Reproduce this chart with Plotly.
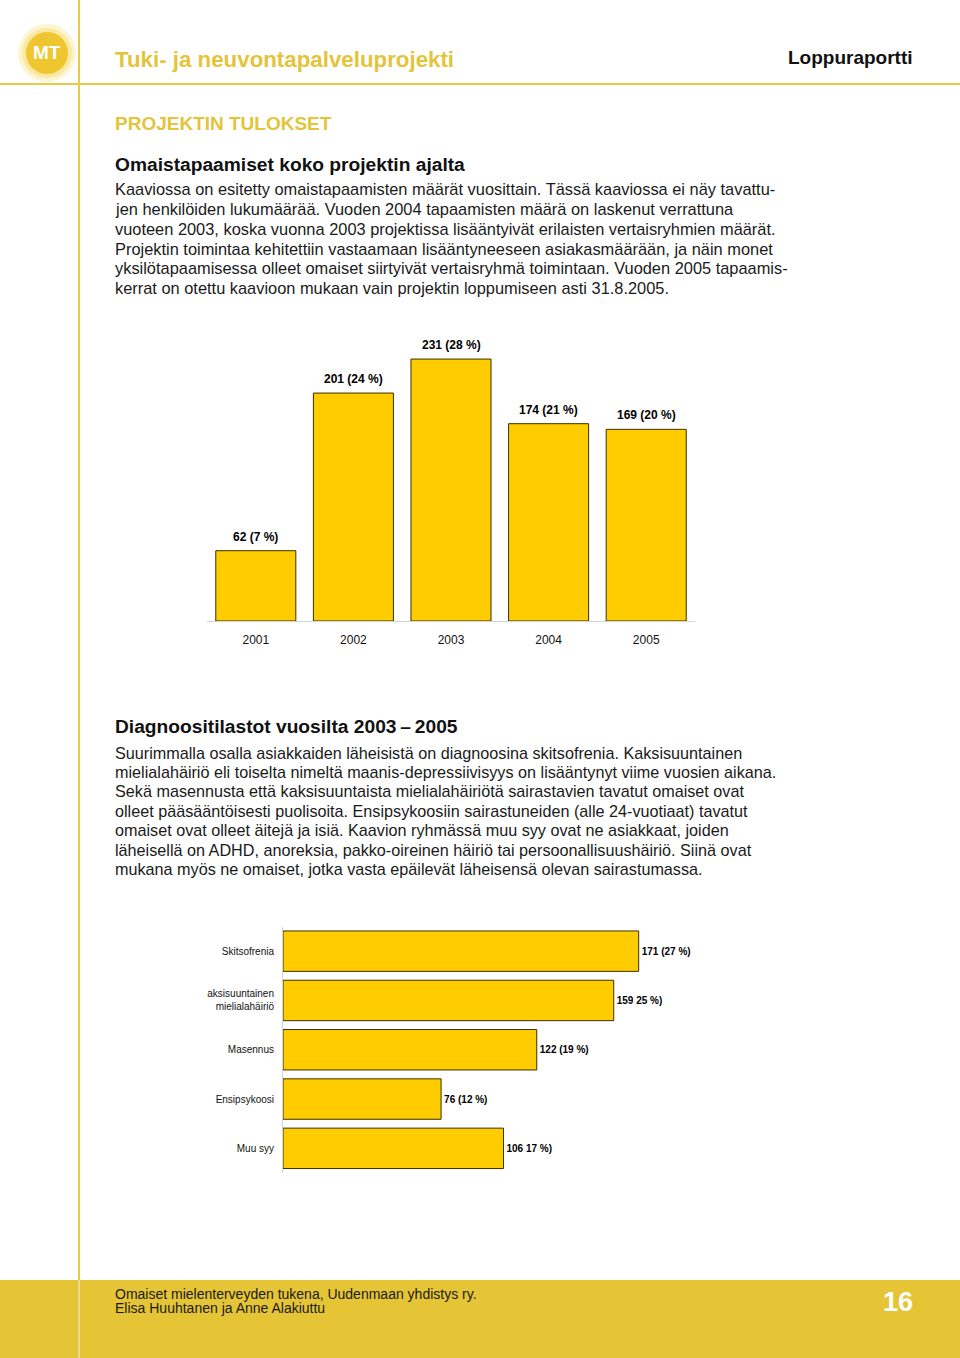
import plotly.graph_objects as go

W, H = 960, 1358

# ---------------- data ----------------
years = ["2001", "2002", "2003", "2004", "2005"]
meetings = [62, 201, 231, 174, 169]
meeting_labels = ["62 (7 %)", "201 (24 %)", "231 (28 %)", "174 (21 %)", "169 (20 %)"]

diagnoses = ["Skitsofrenia", "aksisuuntainen<br>mielialahäiriö", "Masennus", "Ensipsykoosi", "Muu syy"]
diag_counts = [171, 159, 122, 76, 106]
diag_labels = ["171 (27 %)", "159 25 %)", "122 (19 %)", "76 (12 %)", "106 17 %)"]

para1 = [
    "Kaaviossa on esitetty omaistapaamisten määrät vuosittain. Tässä kaaviossa ei näy tavattu-",
    "jen henkilöiden lukumäärää. Vuoden 2004 tapaamisten määrä on laskenut verrattuna",
    "vuoteen 2003, koska vuonna 2003 projektissa lisääntyivät erilaisten vertaisryhmien määrät.",
    "Projektin toimintaa kehitettiin vastaamaan lisääntyneeseen asiakasmäärään, ja näin monet",
    "yksilötapaamisessa olleet omaiset siirtyivät vertaisryhmä toimintaan. Vuoden 2005 tapaamis-",
    "kerrat on otettu kaavioon mukaan vain projektin loppumiseen asti 31.8.2005.",
]
para2 = [
    "Suurimmalla osalla asiakkaiden läheisistä on diagnoosina skitsofrenia. Kaksisuuntainen",
    "mielialahäiriö eli toiselta nimeltä maanis-depressiivisyys on lisääntynyt viime vuosien aikana.",
    "Sekä masennusta että kaksisuuntaista mielialahäiriötä sairastavien tavatut omaiset ovat",
    "olleet pääsääntöisesti puolisoita. Ensipsykoosiin sairastuneiden (alle 24-vuotiaat) tavatut",
    "omaiset ovat olleet äitejä ja isiä. Kaavion ryhmässä muu syy ovat ne asiakkaat, joiden",
    "läheisellä on ADHD, anoreksia, pakko-oireinen häiriö tai persoonallisuushäiriö. Siinä ovat",
    "mukana myös ne omaiset, jotka vasta epäilevät läheisensä olevan sairastumassa.",
]

FONT = "Liberation Sans, Arial, sans-serif"
GOLD = "#E3C43A"
BAR = "#FFCC00"
BAR_LINE = "#3b3100"


def px(x):
    return x / W


def py(y):
    return 1 - y / H


fig = go.Figure()

# Vertical bar chart
fig.add_trace(go.Bar(
    x=years, y=meetings, xaxis="x", yaxis="y",
    marker=dict(color=BAR, line=dict(color=BAR_LINE, width=1)),
    hoverinfo="skip",
))

# Horizontal bar chart
fig.add_trace(go.Bar(
    x=diag_counts, y=diagnoses, orientation="h", xaxis="x2", yaxis="y2",
    marker=dict(color=BAR, line=dict(color=BAR_LINE, width=1)),
    text=diag_labels, textposition="outside", cliponaxis=False,
    textfont=dict(family=FONT, size=10, color="#000000", weight="bold"),
    hoverinfo="skip",
))

annotations = []

# value labels for vertical chart (category index positions on the x axis)
for i, (v, lab) in enumerate(zip(meetings, meeting_labels)):
    annotations.append(dict(
        x=i, y=v, xref="x", yref="y", text=lab, showarrow=False,
        xanchor="center", yanchor="bottom", yshift=5,
        font=dict(family=FONT, size=12, color="#000000", weight="bold"),
    ))


def add_text(x, y, text, size, color="#1a1a1a", bold=False, xanchor="left"):
    annotations.append(dict(
        x=px(x), y=py(y), xref="paper", yref="paper", text=text,
        showarrow=False, xanchor=xanchor, yanchor="middle",
        font=dict(family=FONT, size=size, color=color, weight="bold" if bold else "normal"),
    ))


L = 113
add_text(L, 60, "Tuki- ja neuvontapalveluprojekti", 22.3, color=GOLD, bold=True)
add_text(915, 58, "Loppuraportti", 19, color="#111111", bold=True, xanchor="right")
add_text(L, 123, "PROJEKTIN TULOKSET", 19, color=GOLD, bold=True)
add_text(L, 164, "Omaistapaamiset koko projektin ajalta", 19.2, color="#111111", bold=True)
for i, line in enumerate(para1):
    add_text(L, 189.5 + i * 19.7, line, 16.4)
add_text(L, 726, "Diagnoositilastot vuosilta 2003\u2009–\u20092005", 19.2, color="#111111", bold=True)
for i, line in enumerate(para2):
    add_text(L, 752.5 + i * 19.4, line, 16.2)

add_text(L, 1294, "Omaiset mielenterveyden tukena, Uudenmaan yhdistys ry.", 14)
add_text(L, 1308, "Elisa Huuhtanen ja Anne Alakiuttu", 14)
add_text(915, 1302, "16", 27, color="#ffffff", bold=True, xanchor="right")

# logo text
annotations.append(dict(
    x=px(47), y=py(53), xref="paper", yref="paper", text="MT", showarrow=False,
    xanchor="center", yanchor="middle",
    font=dict(family=FONT, size=19, color="#ffffff", weight="bold"),
))

shapes = [
    # footer band
    dict(type="rect", xref="paper", yref="paper", x0=0, x1=1, y0=0, y1=py(1280),
         fillcolor="#E5C535", line=dict(width=0), layer="below"),
    # vertical margin line
    dict(type="line", xref="paper", yref="paper", x0=px(79), x1=px(79), y0=py(1280), y1=1,
         line=dict(color="#E8C94A", width=2)),
    dict(type="line", xref="paper", yref="paper", x0=px(79), x1=px(79), y0=0, y1=py(1280),
         line=dict(color="#EFDC8A", width=2)),
    # header rule
    dict(type="line", xref="paper", yref="paper", x0=0, x1=1, y0=py(84), y1=py(84),
         line=dict(color="#E8C94A", width=2)),
    # logo glow + ball
    dict(type="circle", xref="paper", yref="paper", x0=px(18), x1=px(76), y0=py(82), y1=py(24),
         fillcolor="#FDF4D0", line=dict(width=0), layer="below"),
    dict(type="circle", xref="paper", yref="paper", x0=px(22), x1=px(72), y0=py(78), y1=py(28),
         fillcolor="#FAE9A0", line=dict(width=0), layer="below"),
    dict(type="circle", xref="paper", yref="paper", x0=px(26), x1=px(68), y0=py(74), y1=py(32),
         fillcolor="#F0C630", line=dict(width=0), layer="below"),
]

# vertical chart geometry: baseline at 621px, 1.134 px per unit
v_top = 621 - 260 * 1.134
# horizontal chart geometry: bars from 283px, 2.08 px per unit
h_right = 283 + 210 * 2.08

fig.update_layout(
    width=W, height=H,
    margin=dict(l=0, r=0, t=0, b=0),
    paper_bgcolor="#ffffff", plot_bgcolor="rgba(0,0,0,0)",
    showlegend=False,
    bargap=0.18,
    font=dict(family=FONT, color="#000000"),
    xaxis=dict(domain=[px(207), px(695)], anchor="y", type="category", range=[-0.5, 4.5],
               showline=True, linecolor="#d4d4d4",
               linewidth=1, showgrid=False, zeroline=False, ticks="",
               tickfont=dict(family=FONT, size=12, color="#111111"), ticklabelstandoff=8,
               fixedrange=True),
    yaxis=dict(domain=[py(621), py(v_top)], anchor="x", range=[0, 260], visible=False,
               fixedrange=True),
    xaxis2=dict(domain=[px(283), px(h_right)], anchor="y2", range=[0, 210], visible=False,
                fixedrange=True),
    yaxis2=dict(domain=[py(1173), py(926.5)], anchor="x2", autorange="reversed",
                type="category",
                showline=True, linecolor="#d4d4d4", linewidth=1, showgrid=False,
                zeroline=False, ticks="", ticklabelstandoff=6,
                tickfont=dict(family=FONT, size=10, color="#111111"), fixedrange=True),
    annotations=annotations,
    shapes=shapes,
)

fig.write_html(
    "out.html",
    config=dict(responsive=False, displayModeBar=False),
    post_script="document.body.style.margin='0';document.body.style.overflow='hidden';",
)
